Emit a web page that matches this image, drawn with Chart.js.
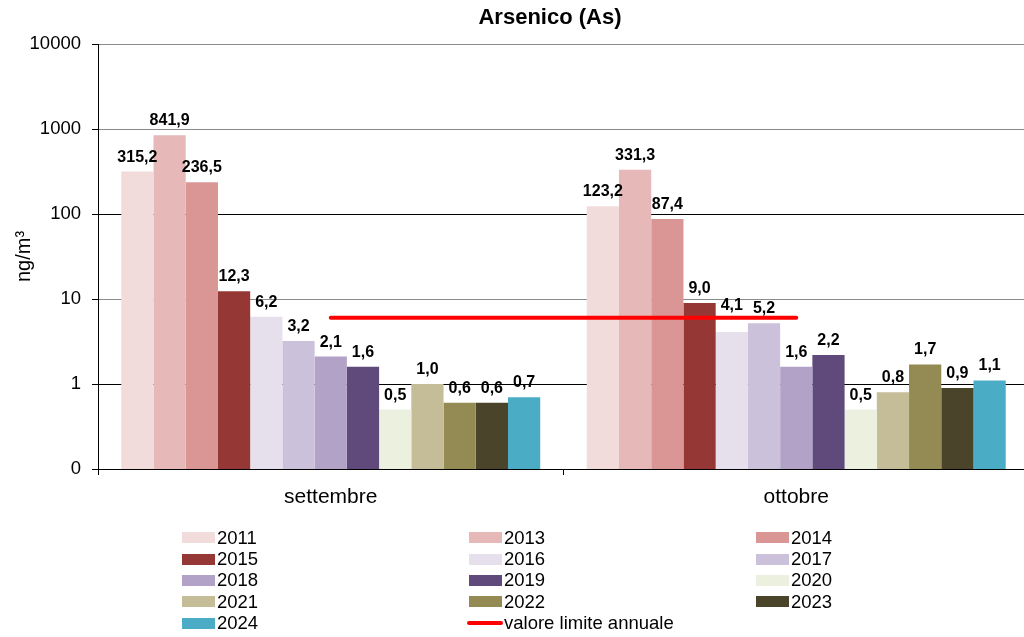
<!DOCTYPE html>
<html>
<head>
<meta charset="utf-8">
<script src="https://cdn.jsdelivr.net/npm/chart.js@4"></script>
<style>
  html, body { margin: 0; padding: 0; background: #fff; overflow: hidden; width: 1024px; height: 637px; }
  #wrap { position: relative; width: 1024px; height: 637px; overflow: hidden; font-family: "Liberation Sans", Arial, sans-serif; }
  #chart { position: absolute; left: 0; top: 0; }
  #title { position: absolute; left: 0; width: 1100px; top: 4px; text-align: center; font-weight: bold; font-size: 22px; color: #000; }
  #legend { position: absolute; left: 182px; top: 527px; display: grid; grid-template-columns: 287px 287px 287px; grid-auto-rows: 21.4px; }
  .item { display: flex; align-items: center; font-size: 18.5px; color: #000; white-space: nowrap; }
  .sw { width: 33px; height: 11px; margin-right: 2px; }
  .ln { width: 36px; height: 4px; border-radius: 2px; margin-left: -2px; margin-right: 1px; }
</style>
</head>
<body>
<div id="wrap">
  <canvas id="chart" width="1029" height="637" style="width:1029px;height:637px"></canvas>
  <div id="title">Arsenico (As)</div>
  <div id="legend"></div>
</div>
<script>
var months = ['settembre', 'ottobre'];
var years = ['2011', '2013', '2014', '2015', '2016', '2017', '2018', '2019', '2020', '2021', '2022', '2023', '2024'];
var settembre = [315.2, 841.9, 236.5, 12.3, 6.2, 3.2, 2.1, 1.6, 0.5, 1.0, 0.6, 0.6, 0.7];
var ottobre = [123.2, 331.3, 87.4, 9.0, 4.1, 5.2, 1.6, 2.2, 0.5, 0.8, 1.7, 0.9, 1.1];
var barColors = ['#F2DCDB', '#E6B9B8', '#D99694', '#953735', '#E6E0EC', '#CCC1DA', '#B3A2C7', '#604A7B', '#EBF1DE', '#C4BD97', '#948A54', '#4A452A', '#4BACC6'];
var limitLabel = 'valore limite annuale';
var limitValue = [6, 6];
var yTicks = [0.1, 1, 10, 100, 1000, 10000];

var datasets = years.map(function (y, i) {
    return {
        type: 'bar',
        label: y,
        data: [settembre[i], ottobre[i]],
        backgroundColor: barColors[i],
        borderWidth: 0,
        order: 1
    };
});
datasets.push({
    type: 'line',
    label: limitLabel,
    data: limitValue,
    borderColor: '#FF0000',
    borderWidth: 4,
    borderCapStyle: 'round',
    pointRadius: 0,
    fill: false,
    order: 0
});

// value labels above the bars (lifted when they would sit on the limit line)
var barLabels = {
    id: 'barLabels',
    afterDatasetsDraw: function (chart) {
        var ctx = chart.ctx;
        var lineMeta = chart.getDatasetMeta(chart.data.datasets.length - 1);
        var x0 = lineMeta.data[0].x, x1 = lineMeta.data[1].x;
        var ly = chart.scales.y.getPixelForValue(limitValue[0]);
        ctx.save();
        ctx.font = 'bold 16px "Liberation Sans", Arial, sans-serif';
        ctx.fillStyle = '#000';
        ctx.textAlign = 'center';
        ctx.textBaseline = 'alphabetic';
        chart.data.datasets.forEach(function (ds, i) {
            if (ds.type !== 'bar') return;
            chart.getDatasetMeta(i).data.forEach(function (bar, j) {
                var txt = ds.data[j].toFixed(1).replace('.', ',');
                var by = bar.y - 10;
                if (bar.x > x0 && bar.x < x1 && by > ly - 3 && by - 12 < ly + 3) by = ly - 8;
                ctx.fillText(txt, bar.x, by);
            });
        });
        ctx.restore();
    }
};

var chart = new Chart(document.getElementById('chart').getContext('2d'), {
    data: { labels: months, datasets: datasets },
    options: {
        responsive: false,
        animation: false,
        devicePixelRatio: 1,
        layout: { padding: { top: 44, bottom: 128, left: 0, right: 0 } },
        datasets: { bar: { categoryPercentage: 0.9, barPercentage: 1 } },
        plugins: {
            legend: { display: false },
            title: { display: false },
            tooltip: { enabled: false }
        },
        scales: {
            x: {
                afterFit: function (s) { s.height = 40; },
                border: { display: true, color: '#000', width: 1 },
                grid: { display: true, drawOnChartArea: false, drawTicks: true, tickLength: 6, color: '#000', offset: true },
                ticks: { color: '#000', padding: 10, font: { family: '"Liberation Sans", Arial, sans-serif', size: 21 } }
            },
            y: {
                type: 'logarithmic',
                min: 0.1,
                max: 10000,
                afterFit: function (s) { s.width = 98; },
                afterBuildTicks: function (s) {
                    s.ticks = yTicks.map(function (v) { return { value: v }; });
                },
                border: { display: true, color: '#000', width: 1 },
                grid: {
                    tickLength: 6,
                    tickColor: '#000',
                    color: function (c) {
                        var v = c.tick ? c.tick.value : 0;
                        return (v === 10000 || v === 1000 || v === 10) ? '#8a8a8a' : '#000';
                    }
                },
                ticks: {
                    color: '#000',
                    padding: 11,
                    font: { family: '"Liberation Sans", Arial, sans-serif', size: 18.5 },
                    callback: function (v) { return v === 0.1 ? '0' : String(v); }
                },
                title: {
                    display: true,
                    text: 'ng/m³',
                    color: '#000',
                    padding: { top: 12, bottom: 0 },
                    font: { family: '"Liberation Sans", Arial, sans-serif', size: 20 }
                }
            }
        }
    },
    plugins: [barLabels]
});

// legend in three columns, built from the chart datasets
var legend = document.getElementById('legend');
chart.data.datasets.forEach(function (ds) {
    var item = document.createElement('div');
    item.className = 'item';
    var sw = document.createElement('span');
    if (ds.type === 'line') {
        sw.className = 'ln';
        sw.style.background = ds.borderColor;
    } else {
        sw.className = 'sw';
        sw.style.background = ds.backgroundColor;
    }
    item.appendChild(sw);
    item.appendChild(document.createTextNode(ds.label));
    legend.appendChild(item);
});
</script>
</body>
</html>
